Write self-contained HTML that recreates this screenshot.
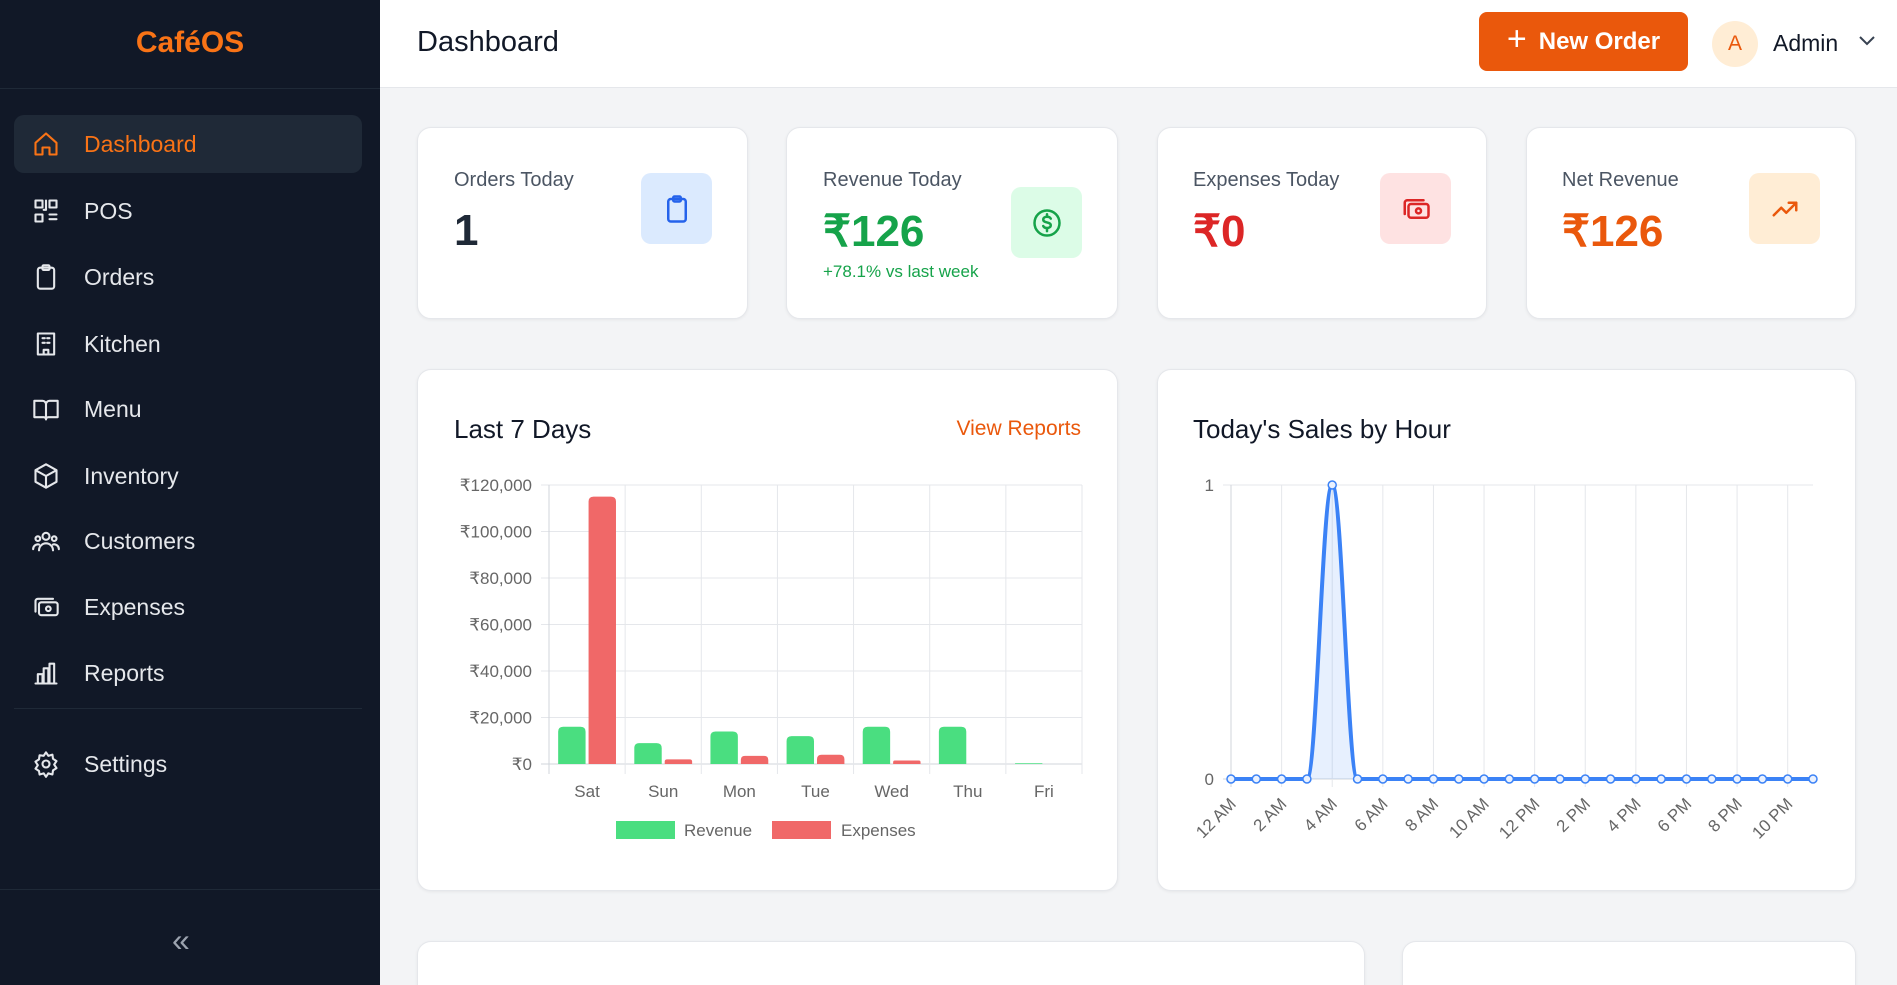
<!DOCTYPE html>
<html style="width:1897px;height:985px;overflow:hidden"><head><meta charset="utf-8">
<style>
*{box-sizing:border-box;margin:0;padding:0}
body{width:1897px;height:985px;overflow:hidden;background:#f3f4f6;font-family:"Liberation Sans",sans-serif;position:relative}
#root{position:absolute;left:0;top:0;width:1897px;height:985px;overflow:hidden}
.abs{position:absolute}
#sidebar{left:0;top:0;width:380px;height:985px;background:#111827}
.logo{left:0;width:380px;top:26px;text-align:center;color:#f97316;font-weight:bold;font-size:30px}
.nav{left:14px;width:348px;height:58px;color:#e5e7eb;font-size:23px;display:flex;align-items:center;padding-left:18px;border-radius:10px}
.nav svg{width:28px;height:28px;margin-right:24px;fill:none;stroke:currentColor;stroke-width:1.8;stroke-linecap:round;stroke-linejoin:round}
.nav.active{background:#1f2937;color:#f97316}
#header{left:380px;top:0;width:1517px;height:88px;background:#fff;border-bottom:1px solid #e5e7eb}
.card{background:#fff;border-radius:14px;border:1px solid #e5e7eb;box-shadow:0 1px 3px rgba(0,0,0,.06)}
.lbl{font-size:20px;color:#4b5563}
.val{font-size:44px;font-weight:bold}
.ibox{width:71px;height:71px;border-radius:10px;display:flex;align-items:center;justify-content:center}
.ibox svg{width:30px;height:30px;fill:none;stroke-width:2;stroke-linecap:round;stroke-linejoin:round}
.ctitle{font-size:26px;color:#111827}
svg text{font-family:"Liberation Sans",sans-serif}
</style></head><body>
<div id="root">
<div id="sidebar" class="abs">
  <div class="abs logo">CaféOS</div>
  <div class="abs" style="left:0;top:88px;width:380px;border-top:1px solid #1f2937"></div>
  <div class="abs nav active" style="top:115px"><svg viewBox="0 0 24 24"><path d="M3 11l9-8 9 8v10h-6v-6h-6v6H3z"/></svg>Dashboard</div>
  <div class="abs nav" style="top:182px"><svg viewBox="0 0 24 24"><rect x="3" y="3" width="6" height="6"/><rect x="15" y="3" width="6" height="6"/><rect x="3" y="15" width="6" height="6"/><path d="M15 15h6M15 19h6M12 3v8h-2"/></svg>POS</div>
  <div class="abs nav" style="top:248px"><svg viewBox="0 0 24 24"><rect x="5" y="4" width="14" height="18" rx="2"/><rect x="9" y="2" width="6" height="4" rx="1"/></svg>Orders</div>
  <div class="abs nav" style="top:315px"><svg viewBox="0 0 24 24"><rect x="5" y="3" width="14" height="18"/><path d="M9 7h2M13 7h2M9 11h2M13 11h2M10 21v-4h4v4"/></svg>Kitchen</div>
  <div class="abs nav" style="top:380px"><svg viewBox="0 0 24 24"><path d="M2 5h7a3 3 0 013 3v13a2 2 0 00-2-2H2zM22 5h-7a3 3 0 00-3 3v13a2 2 0 012-2h8z"/></svg>Menu</div>
  <div class="abs nav" style="top:447px"><svg viewBox="0 0 24 24"><path d="M12 2l9 5v10l-9 5-9-5V7zM3 7l9 5 9-5M12 12v10"/></svg>Inventory</div>
  <div class="abs nav" style="top:512px"><svg viewBox="0 0 24 24"><circle cx="12" cy="8" r="3"/><circle cx="5" cy="10" r="2"/><circle cx="19" cy="10" r="2"/><path d="M6 20a6 6 0 0112 0M1 19a4 4 0 015-4M23 19a4 4 0 00-5-4"/></svg>Customers</div>
  <div class="abs nav" style="top:578px"><svg viewBox="0 0 24 24"><rect x="6" y="8" width="16" height="11" rx="2"/><path d="M3 16V7a2 2 0 012-2h13"/><circle cx="14" cy="13.5" r="2"/></svg>Expenses</div>
  <div class="abs nav" style="top:644px"><svg viewBox="0 0 24 24"><path d="M3 21h18M5 21v-8h4v8M10 21V8h4v13M15 21V4h4v17"/></svg>Reports</div>
  <div class="abs" style="left:14px;top:708px;width:348px;border-top:1px solid #1f2937"></div>
  <div class="abs nav" style="top:735px"><svg viewBox="0 0 24 24"><circle cx="12" cy="12" r="3"/><path d="M12 2l2 3 3.5-1 .5 3.5 3 2-2 3 2 3-3 2-.5 3.5-3.5-1-2 3-2-3-3.5 1L6 18l-3-2 2-3-2-3 3-2 .5-3.5L10 5z"/></svg>Settings</div>
  <div class="abs" style="left:0;top:889px;width:380px;border-top:1px solid #1f2937"></div>
  <div class="abs" style="left:172px;top:922px;color:#9ca3af;font-size:32px">«</div>
</div>

<div id="header" class="abs">
  <div class="abs" style="left:37px;top:26px;font-size:29px;color:#111827">Dashboard</div>
  <div class="abs" style="left:1099px;top:12px;width:209px;height:59px;background:#ea580c;border-radius:8px;color:#fff;font-size:24px;font-weight:bold;display:flex;align-items:center;justify-content:center"><span style="font-size:34px;font-weight:normal;margin-right:12px;margin-top:-4px">+</span>New Order</div>
  <div class="abs" style="left:1332px;top:21px;width:46px;height:46px;border-radius:50%;background:#ffedd5;color:#ea580c;font-size:21px;display:flex;align-items:center;justify-content:center">A</div>
  <div class="abs" style="left:1393px;top:30px;font-size:23px;color:#111827">Admin</div>
  <svg class="abs" style="left:1477px;top:34px" width="20" height="14" viewBox="0 0 20 14"><path d="M3 3l7 7 7-7" fill="none" stroke="#374151" stroke-width="2"/></svg>
</div>

<div class="abs card" style="left:417px;top:127px;width:331px;height:192px">
  <div class="abs lbl" style="left:36px;top:41px">Orders Today</div>
  <div class="abs val" style="left:36px;top:78px;color:#1f2937">1</div>
  <div class="abs ibox" style="left:223px;top:45px;background:#dbeafe"><svg viewBox="0 0 24 24" stroke="#2563eb"><rect x="5" y="4" width="14" height="18" rx="2"/><rect x="9" y="2" width="6" height="4" rx="1"/></svg></div>
</div>
<div class="abs card" style="left:786px;top:127px;width:332px;height:192px">
  <div class="abs lbl" style="left:36px;top:41px">Revenue Today</div>
  <div class="abs val" style="left:36px;top:78px;color:#16a34a">₹126</div>
  <div class="abs" style="left:36px;top:134px;font-size:17px;color:#16a34a">+78.1% vs last week</div>
  <div class="abs ibox" style="left:224px;top:59px;background:#dcfce7"><svg viewBox="0 0 24 24" stroke="#16a34a"><circle cx="12" cy="12" r="10"/><path d="M15 8.5c-.5-1-1.7-1.5-3-1.5-1.7 0-3 .9-3 2.3 0 3 6 1.5 6 4.5 0 1.4-1.3 2.2-3 2.2-1.4 0-2.6-.6-3-1.6M12 5v2M12 16.5v2"/></svg></div>
</div>
<div class="abs card" style="left:1157px;top:127px;width:330px;height:192px">
  <div class="abs lbl" style="left:35px;top:41px">Expenses Today</div>
  <div class="abs val" style="left:35px;top:78px;color:#dc2626">₹0</div>
  <div class="abs ibox" style="left:222px;top:45px;background:#fee2e2"><svg viewBox="0 0 24 24" stroke="#dc2626"><rect x="6" y="8" width="16" height="11" rx="2"/><path d="M3 16V7a2 2 0 012-2h13"/><circle cx="14" cy="13.5" r="2"/></svg></div>
</div>
<div class="abs card" style="left:1526px;top:127px;width:330px;height:192px">
  <div class="abs lbl" style="left:35px;top:41px">Net Revenue</div>
  <div class="abs val" style="left:35px;top:78px;color:#ea580c">₹126</div>
  <div class="abs ibox" style="left:222px;top:45px;background:#ffedd5"><svg viewBox="0 0 24 24" stroke="#ea580c"><path d="M3 17l6-6 4 4 8-8M15 7h6v6"/></svg></div>
</div>

<div class="abs card" style="left:417px;top:369px;width:701px;height:522px">
  <div class="abs ctitle" style="left:36px;top:44px">Last 7 Days</div>
  <div class="abs" style="right:36px;top:47px;font-size:21px;color:#ea580c">View Reports</div>
</div>
<div class="abs card" style="left:1157px;top:369px;width:699px;height:522px">
  <div class="abs ctitle" style="left:35px;top:44px">Today's Sales by Hour</div>
</div>
<div class="abs card" style="left:417px;top:941px;width:948px;height:60px"></div>
<div class="abs card" style="left:1402px;top:941px;width:454px;height:60px"></div>

<svg id="bar" class="abs" style="left:0;top:0" width="1897" height="985"></svg>
</div>
<script>
const categories=["Sat","Sun","Mon","Tue","Wed","Thu","Fri"];
const revenue=[16000,9000,14000,12000,16000,16000,300];
const expenses=[115000,2000,3500,4000,1500,0,0];
const yTicks=[0,20000,40000,60000,80000,100000,120000];
const hours=["12 AM","1 AM","2 AM","3 AM","4 AM","5 AM","6 AM","7 AM","8 AM","9 AM","10 AM","11 AM","12 PM","1 PM","2 PM","3 PM","4 PM","5 PM","6 PM","7 PM","8 PM","9 PM","10 PM","11 PM"];
const hourSales=[0,0,0,0,1,0,0,0,0,0,0,0,0,0,0,0,0,0,0,0,0,0,0,0];
const hourTicks=[0,1];

const NS="http://www.w3.org/2000/svg";
const svg=document.getElementById('bar');
function mk(t,a,p){const e=document.createElementNS(NS,t);for(const k in a)e.setAttribute(k,a[k]);(p||svg).appendChild(e);return e;}

const L=549,R=1082,T=485,B=764;
const ymax=120000;
const y=v=>B-(v/ymax)*(B-T);
const cw=(R-L)/categories.length;
const x=i=>L+cw*i;
yTicks.forEach(t=>{
  let g=mk('line',{x1:L-8,x2:R,y1:y(t),y2:y(t),stroke:t===0?'#d1d5db':'#e5e7eb'});
  
  
  let tx=mk('text',{x:L-17,y:y(t)+6,'text-anchor':'end','font-size':17,fill:'#666'});
  tx.textContent='₹'+t.toLocaleString('en-US');
  
  
});
for(let i=0;i<=categories.length;i++){
  let g=mk('line',{x1:x(i),x2:x(i),y1:T,y2:B+10,stroke:i===0?'#d1d5db':'#e5e7eb'});
  
  
}
const bw=cw*0.36;
categories.forEach((c,i)=>{
  const cx=x(i)+cw/2;
  [[revenue[i],'#4ade80',cx-bw-1.5,'bar-revenue'],[expenses[i],'#f06868',cx+1.5,'bar-expenses']].forEach(([v,col,bx,nm])=>{
    if(v<=0)return;
    const h=B-y(v);const rr=Math.min(5,h/2);
    let r=mk('path',{d:`M${bx},${B}V${y(v)+rr}q0,-${rr} ${rr},-${rr}H${bx+bw-rr}q${rr},0 ${rr},${rr}V${B}Z`,fill:col});
    
    
  });
  let tx=mk('text',{x:cx,y:797,'text-anchor':'middle','font-size':17,fill:'#666'});
  tx.textContent=c;
  
  
});
let lg=mk('rect',{x:616,y:821,width:59,height:18,fill:'#4ade80'});


let lt=mk('text',{x:684,y:836,'font-size':17,fill:'#666'});lt.textContent='Revenue';


let lg2=mk('rect',{x:772,y:821,width:59,height:18,fill:'#f06868'});


let lt2=mk('text',{x:841,y:836,'font-size':17,fill:'#666'});lt2.textContent='Expenses';



const L2=1231,R2=1813,T2=485,B2=779;
const hx=i=>L2+(R2-L2)*i/(hours.length-1);
const hy=v=>B2-(v/1)*(B2-T2);
hourTicks.forEach(t=>{
  let g=mk('line',{x1:L2-8,x2:R2,y1:hy(t),y2:hy(t),stroke:t===0?'#d1d5db':'#e5e7eb'});
  
  
  let tx=mk('text',{x:L2-17,y:hy(t)+6,'text-anchor':'end','font-size':17,fill:'#666'});
  tx.textContent=t;
  
  
});
hours.forEach((h,i)=>{
  if(i%2)return;
  let g=mk('line',{x1:hx(i),x2:hx(i),y1:T2,y2:B2+8,stroke:i===0?'#d1d5db':'#e5e7eb'});
  
  
  let tx=mk('text',{x:hx(i)+6,y:B2+26,'text-anchor':'end','font-size':17,fill:'#666',transform:`rotate(-45 ${hx(i)+6} ${B2+26})`});
  tx.textContent=h;
  
  
});
let d='M'+hx(0)+','+hy(hourSales[0]);
for(let i=1;i<hourSales.length;i++){
  const x0=hx(i-1),x1=hx(i),y0=hy(hourSales[i-1]),y1=hy(hourSales[i]);
  const dx=(x1-x0)*0.4;
  d+=` C${x0+dx},${y0} ${x1-dx},${y1} ${x1},${y1}`;
}
let area=mk('path',{d:d+` L${hx(hours.length-1)},${B2} L${hx(0)},${B2} Z`,fill:'rgba(59,130,246,0.12)'});


let ln=mk('path',{d:d,fill:'none',stroke:'#3b82f6','stroke-width':4});


hourSales.forEach((v,i)=>{
  let c=mk('circle',{cx:hx(i),cy:hy(v),r:4,fill:'#eaf1fe',stroke:'#3b82f6','stroke-width':1.5});
  
  
});
</script>
</body></html>
